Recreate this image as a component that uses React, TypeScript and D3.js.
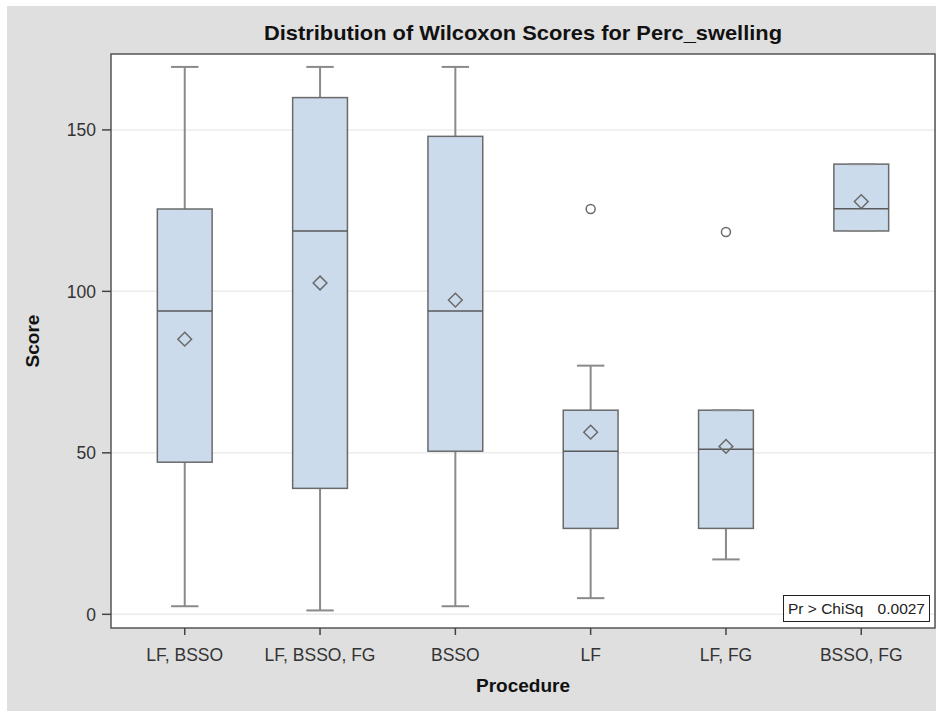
import React from "react";
import * as d3 from "d3";

// Procedure groups and their Wilcoxon score summaries
const categories = ["LF, BSSO", "LF, BSSO, FG", "BSSO", "LF", "LF, FG", "BSSO, FG"];
const whiskerLow = [2.5, 1.2, 2.5, 5.0, 17.0, 118.7];
const q1 = [47.1, 39.0, 50.5, 26.6, 26.6, 118.7];
const median = [93.9, 118.7, 93.9, 50.5, 51.1, 125.6];
const q3 = [125.5, 160.0, 148.0, 63.2, 63.2, 139.4];
const whiskerHigh = [169.5, 169.5, 169.5, 77.0, 63.2, 139.4];
const mean = [85.2, 102.6, 97.3, 56.4, 52.0, 127.8];
const outliers: number[][] = [[], [], [], [125.5], [118.4], []];
const yTicks = [0, 50, 100, 150];

const title = "Distribution of Wilcoxon Scores for Perc_swelling";
const xLabel = "Procedure";
const yLabel = "Score";
const statLabel = "Pr > ChiSq";
const statValue = "0.0027";

const W = 936;
const H = 711;
const plot = { left: 111, right: 935, top: 54, bottom: 628 };

export default function App() {
  const x = d3
    .scalePoint<string>()
    .domain(categories)
    .range([plot.left, plot.right])
    .padding(0.545);
  const y = d3.scaleLinear().domain([-4.24, 173.5]).range([plot.bottom, plot.top]);
  const boxW = x.step() * 0.405;
  const capW = boxW / 2;
  const font = "'Liberation Sans', Arial, sans-serif";
  const stroke = "#6a6a6a";

  return (
    <div style={{ position: "absolute", left: 0, top: 0 }}>
      <svg width={W} height={H} style={{ display: "block" }} fontFamily={font}>
        <rect x={0} y={0} width={W} height={H} fill="#ffffff" />
        <rect x={7} y={6} width={W - 7} height={H - 6} fill="#dfdfdf" />
        <rect
          x={plot.left}
          y={plot.top}
          width={plot.right - plot.left}
          height={plot.bottom - plot.top}
          fill="#ffffff"
        />
        {/* grid */}
        {yTicks.map((t) => (
          <line
            key={"g" + t}
            x1={plot.left}
            x2={plot.right}
            y1={y(t)}
            y2={y(t)}
            stroke="#ececec"
            strokeWidth={1.5}
          />
        ))}
        {/* boxes */}
        {categories.map((c, i) => {
          const cx = x(c)!;
          return (
            <g key={c}>
              <line x1={cx} x2={cx} y1={y(whiskerHigh[i])} y2={y(q3[i])} stroke="#8a8a8a" strokeWidth={2} />
              <line x1={cx} x2={cx} y1={y(q1[i])} y2={y(whiskerLow[i])} stroke="#8a8a8a" strokeWidth={2} />
              <rect
                x={cx - boxW / 2}
                y={y(q3[i])}
                width={boxW}
                height={y(q1[i]) - y(q3[i])}
                fill="#cbdbeb"
                stroke={stroke}
                strokeWidth={1.5}
              />
              <line x1={cx - capW / 2} x2={cx + capW / 2} y1={y(whiskerHigh[i])} y2={y(whiskerHigh[i])} stroke="#8a8a8a" strokeWidth={2} />
              <line x1={cx - capW / 2} x2={cx + capW / 2} y1={y(whiskerLow[i])} y2={y(whiskerLow[i])} stroke="#8a8a8a" strokeWidth={2} />
              <line x1={cx - boxW / 2} x2={cx + boxW / 2} y1={y(median[i])} y2={y(median[i])} stroke="#5a5a5a" strokeWidth={1.5} />
              <path
                d={d3.symbol(d3.symbolDiamond2, 120)()!}
                transform={`translate(${cx},${y(mean[i])})`}
                fill="none"
                stroke={stroke}
                strokeWidth={1.5}
              />
              {outliers[i].map((o, j) => (
                <circle key={j} cx={cx} cy={y(o)} r={4.5} fill="none" stroke={stroke} strokeWidth={1.5} />
              ))}
            </g>
          );
        })}
        {/* frame */}
        <rect
          x={plot.left}
          y={plot.top}
          width={plot.right - plot.left}
          height={plot.bottom - plot.top}
          fill="none"
          stroke="#555555"
          strokeWidth={1.5}
        />
        {/* y axis */}
        {yTicks.map((t) => (
          <g key={"y" + t}>
            <line x1={plot.left - 9} x2={plot.left} y1={y(t)} y2={y(t)} stroke="#444" strokeWidth={1.5} />
            <text x={plot.left - 15} y={y(t)} dy="0.36em" textAnchor="end" fontSize={17.5} fill="#333">
              {t}
            </text>
          </g>
        ))}
        {/* x axis */}
        {categories.map((c) => (
          <g key={"x" + c}>
            <line x1={x(c)!} x2={x(c)!} y1={plot.bottom} y2={plot.bottom + 7} stroke="#444" strokeWidth={1.5} />
            <text x={x(c)!} y={661} textAnchor="middle" fontSize={17.5} fill="#333">
              {c}
            </text>
          </g>
        ))}
        <text x={(plot.left + plot.right) / 2} y={692} textAnchor="middle" fontSize={19} fontWeight="bold" fill="#111">
          {xLabel}
        </text>
        <text
          transform={`translate(39,${(plot.top + plot.bottom) / 2}) rotate(-90)`}
          textAnchor="middle"
          fontSize={19}
          fontWeight="bold"
          fill="#111"
        >
          {yLabel}
        </text>
        <text
          x={(plot.left + plot.right) / 2}
          y={40}
          textAnchor="middle"
          fontSize={20.5}
          fontWeight="bold"
          fill="#111"
          textLength={518}
          lengthAdjust="spacingAndGlyphs"
        >
          {title}
        </text>
        {/* statistic inset */}
        <rect x={783.5} y={595.5} width={146} height={26} fill="#ffffff" stroke="#222" strokeWidth={1} />
        <text x={788} y={614} fontSize={15.5} fill="#222">
          {statLabel}
        </text>
        <text x={925} y={614} fontSize={15.5} fill="#222" textAnchor="end">
          {statValue}
        </text>
      </svg>
    </div>
  );
}
